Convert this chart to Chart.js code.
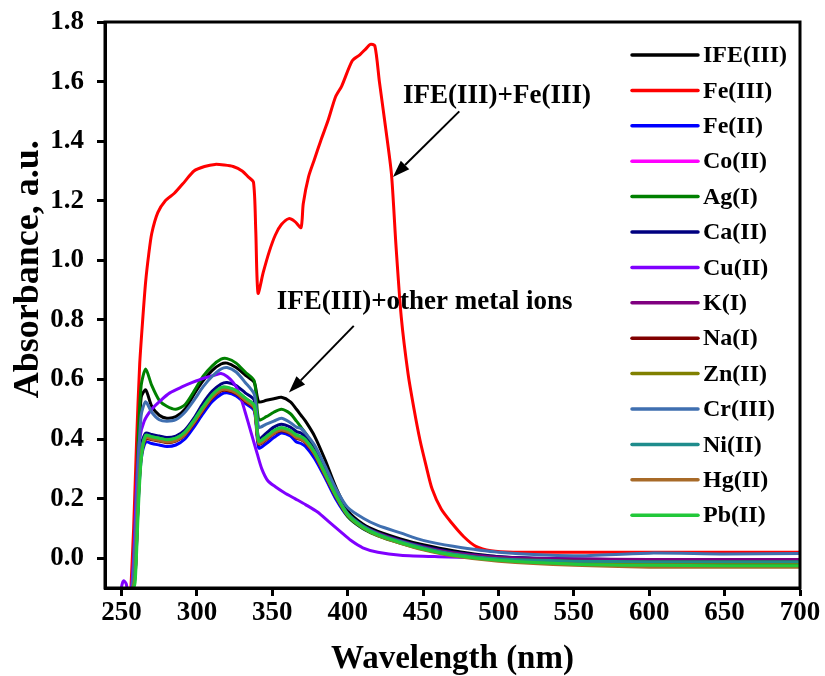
<!DOCTYPE html>
<html>
<head>
<meta charset="utf-8">
<script src="https://cdn.jsdelivr.net/npm/chart.js@4/dist/chart.umd.min.js"></script>
<style>
  html, body { margin: 0; padding: 0; background: #ffffff; }
  #wrap { width: 825px; height: 676px; }
</style>
</head>
<body>
<div id="wrap"><canvas id="c" width="825" height="676"></canvas></div>
<script>
// ---- Data -------------------------------------------------------------
const xTicks = [250, 300, 350, 400, 450, 500, 550, 600, 650, 700];
const yTicks = [0.0, 0.2, 0.4, 0.6, 0.8, 1.0, 1.2, 1.4, 1.6, 1.8];

const seriesNames = ['IFE(III)', 'Fe(III)', 'Fe(II)', 'Co(II)', 'Ag(I)', 'Ca(II)', 'Cu(II)',
                     'K(I)', 'Na(I)', 'Zn(II)', 'Cr(III)', 'Ni(II)', 'Hg(II)', 'Pb(II)'];

// common wavelength grid (nm) for IFE(III) with the non-interfering ions
const wl = [257, 259, 261, 263, 266, 270, 275, 280, 286, 292, 298, 304, 310, 316, 320, 326, 332, 338,
            341, 346, 351, 356, 362, 366, 369, 372, 378, 385, 392, 400, 410, 420, 435, 450, 470, 500,
            550, 600, 650, 700];

const ife   = [-0.12, 0.10, 0.35, 0.54, 0.565, 0.51, 0.48, 0.47, 0.475, 0.50, 0.55, 0.595, 0.63, 0.652, 0.655, 0.64, 0.615, 0.59,
               0.525, 0.53, 0.535, 0.54, 0.525, 0.50, 0.48, 0.46, 0.41, 0.33, 0.24, 0.16, 0.115, 0.09, 0.065, 0.045, 0.025, 0.005,
               -0.005, -0.008, -0.01, -0.01];
const agI   = [-0.12, 0.10, 0.40, 0.58, 0.635, 0.58, 0.53, 0.51, 0.50, 0.515, 0.56, 0.61, 0.645, 0.668, 0.67, 0.655, 0.625, 0.595,
               0.465, 0.475, 0.49, 0.50, 0.485, 0.46, 0.44, 0.42, 0.37, 0.29, 0.21, 0.14, 0.10, 0.075, 0.05, 0.03, 0.01, -0.005,
               -0.015, -0.02, -0.02, -0.02];
const crIII = [-0.12, 0.05, 0.30, 0.48, 0.525, 0.49, 0.465, 0.46, 0.465, 0.49, 0.53, 0.575, 0.61, 0.635, 0.64, 0.625, 0.59, 0.55,
               0.44, 0.45, 0.46, 0.47, 0.455, 0.44, 0.435, 0.42, 0.38, 0.31, 0.235, 0.17, 0.135, 0.11, 0.085, 0.06, 0.04, 0.02,
               0.008, 0.017, 0.014, 0.016];
const caII  = [-0.12, 0.00, 0.25, 0.38, 0.42, 0.415, 0.41, 0.405, 0.41, 0.43, 0.47, 0.52, 0.56, 0.585, 0.59, 0.58, 0.555, 0.53,
               0.40, 0.42, 0.44, 0.45, 0.44, 0.425, 0.42, 0.405, 0.36, 0.29, 0.215, 0.15, 0.11, 0.085, 0.06, 0.04, 0.02, 0.005,
               -0.003, -0.005, -0.005, -0.005];
const feII  = [-0.12, -0.06, 0.18, 0.33, 0.39, 0.385, 0.38, 0.375, 0.38, 0.40, 0.44, 0.485, 0.525, 0.55, 0.555, 0.545, 0.52, 0.495,
               0.37, 0.385, 0.405, 0.42, 0.41, 0.39, 0.385, 0.375, 0.335, 0.27, 0.20, 0.14, 0.10, 0.078, 0.054, 0.035, 0.016, 0.002,
               -0.004, -0.005, -0.004, -0.004];
const coII  = [-0.12, -0.05, 0.20, 0.35, 0.41, 0.405, 0.40, 0.395, 0.40, 0.42, 0.46, 0.505, 0.545, 0.57, 0.57, 0.56, 0.535, 0.51,
               0.39, 0.405, 0.425, 0.435, 0.425, 0.41, 0.405, 0.395, 0.355, 0.285, 0.213, 0.148, 0.107, 0.082, 0.057, 0.036, 0.016, 0.0,
               -0.006, -0.006, -0.006, -0.006];
const kI    = [-0.12, -0.05, 0.20, 0.35, 0.405, 0.40, 0.395, 0.39, 0.395, 0.415, 0.455, 0.50, 0.54, 0.565, 0.565, 0.555, 0.53, 0.505,
               0.385, 0.40, 0.42, 0.43, 0.42, 0.405, 0.40, 0.39, 0.35, 0.28, 0.21, 0.147, 0.108, 0.084, 0.058, 0.038, 0.018, 0.003,
               -0.003, -0.004, -0.004, -0.004];
const naI   = [-0.12, -0.05, 0.19, 0.34, 0.40, 0.398, 0.393, 0.388, 0.393, 0.413, 0.452, 0.497, 0.537, 0.562, 0.563, 0.552, 0.527, 0.502,
               0.383, 0.398, 0.418, 0.428, 0.418, 0.403, 0.398, 0.388, 0.348, 0.278, 0.208, 0.144, 0.104, 0.079, 0.054, 0.034, 0.014, -0.002,
               -0.01, -0.012, -0.012, -0.012];
const znII  = [-0.12, -0.05, 0.20, 0.35, 0.408, 0.403, 0.398, 0.393, 0.398, 0.418, 0.458, 0.503, 0.543, 0.568, 0.568, 0.558, 0.533, 0.508,
               0.388, 0.403, 0.423, 0.433, 0.423, 0.408, 0.403, 0.393, 0.353, 0.283, 0.212, 0.146, 0.105, 0.079, 0.053, 0.032, 0.012, -0.004,
               -0.013, -0.016, -0.016, -0.016];
const niII  = [-0.12, -0.04, 0.21, 0.36, 0.413, 0.408, 0.403, 0.398, 0.403, 0.423, 0.463, 0.508, 0.548, 0.573, 0.573, 0.563, 0.538, 0.513,
               0.393, 0.408, 0.428, 0.438, 0.428, 0.413, 0.408, 0.398, 0.357, 0.287, 0.215, 0.149, 0.108, 0.082, 0.056, 0.035, 0.014, -0.002,
               -0.01, -0.012, -0.012, -0.012];
const hgII  = [-0.12, -0.06, 0.19, 0.345, 0.405, 0.40, 0.395, 0.39, 0.395, 0.415, 0.455, 0.50, 0.54, 0.565, 0.566, 0.555, 0.53, 0.505,
               0.385, 0.40, 0.42, 0.43, 0.42, 0.405, 0.40, 0.39, 0.35, 0.28, 0.21, 0.144, 0.102, 0.076, 0.05, 0.028, 0.007, -0.01,
               -0.024, -0.03, -0.03, -0.03];
const pbII  = [-0.12, -0.08, 0.15, 0.33, 0.412, 0.408, 0.403, 0.398, 0.403, 0.423, 0.463, 0.508, 0.548, 0.573, 0.574, 0.563, 0.538, 0.513,
               0.393, 0.408, 0.428, 0.438, 0.428, 0.413, 0.408, 0.398, 0.356, 0.285, 0.213, 0.146, 0.104, 0.078, 0.052, 0.031, 0.01, -0.007,
               -0.02, -0.024, -0.025, -0.025];

// Cu(II) on its own grid (includes the small feature near 251 nm)
const wlCu = [249, 250.5, 251.5, 253, 254.5, 256, 258, 260, 262, 265, 270, 276, 282, 290, 297, 305, 312, 316, 320, 324, 328, 332,
              336, 340, 343, 347, 352, 358, 365, 372, 380, 388, 395, 402, 410, 420, 435, 460, 500, 550, 600, 650, 700];
const cuII = [-0.12, -0.085, -0.076, -0.085, -0.12, -0.12, 0.0, 0.25, 0.40, 0.46, 0.50, 0.53, 0.555, 0.575, 0.59, 0.605, 0.615, 0.62,
              0.61, 0.59, 0.555, 0.49, 0.42, 0.35, 0.30, 0.26, 0.24, 0.22, 0.20, 0.18, 0.155, 0.12, 0.09, 0.06, 0.035, 0.02, 0.01, 0.005,
              0.0, -0.003, -0.005, -0.005, -0.005];

// Fe(III) on its own grid
const wlFe3 = [256, 258, 260, 262, 264, 266, 268, 270, 274, 279, 285, 292, 298, 305, 312, 318, 324, 330, 334, 337.5, 339, 340.5,
               344, 348, 352, 356, 361, 365, 369, 370.5, 374, 378, 382, 387, 392, 396, 403, 408, 412, 415, 418, 421, 425, 429,
               432, 435.5, 440, 444, 448, 452, 456, 462, 469, 477, 485, 495, 510, 550, 600, 650, 700];
const feIII = [-0.12, 0.10, 0.40, 0.65, 0.80, 0.93, 1.02, 1.09, 1.16, 1.20, 1.225, 1.265, 1.30, 1.315, 1.322, 1.32, 1.315, 1.30,
               1.28, 1.262, 1.10, 0.89, 0.96, 1.03, 1.085, 1.12, 1.14, 1.13, 1.11, 1.19, 1.28, 1.34, 1.40, 1.47, 1.55, 1.585, 1.67,
               1.69, 1.71, 1.725, 1.72, 1.60, 1.45, 1.29, 1.05, 0.81, 0.62, 0.50, 0.395, 0.31, 0.232, 0.165, 0.118, 0.072, 0.04,
               0.025, 0.02, 0.02, 0.02, 0.02, 0.02];

const seriesColors = ['#000000', '#FF0000', '#0000FF', '#FF00FF', '#008000', '#000080', '#8000FF',
                      '#800080', '#800000', '#808000', '#3F6FB0', '#1E8C8C', '#A86A28', '#22C83A'];

// ---- Build datasets ---------------------------------------------------
const toPts = (xs, ys) => xs.map((x, i) => ({ x: x, y: ys[i] }));
const seriesData = [
  toPts(wl, ife), toPts(wlFe3, feIII), toPts(wl, feII), toPts(wl, coII), toPts(wl, agI), toPts(wl, caII),
  toPts(wlCu, cuII), toPts(wl, kI), toPts(wl, naI), toPts(wl, znII), toPts(wl, crIII), toPts(wl, niII),
  toPts(wl, hgII), toPts(wl, pbII)
];
const datasets = seriesNames.map((name, i) => ({
  label: name,
  data: seriesData[i],
  borderColor: seriesColors[i],
  backgroundColor: seriesColors[i],
  borderWidth: 3,
  pointRadius: 0,
  tension: 0.25,
  fill: false,
  order: seriesNames.length - i   // later series painted on top
}));

const serif = '"Liberation Serif", "Times New Roman", serif';

// ---- Plugins ----------------------------------------------------------
// frame around the plot area
const framePlugin = {
  id: 'frame',
  afterDatasetsDraw(chart) {
    const a = chart.chartArea, ctx = chart.ctx;
    ctx.save();
    ctx.strokeStyle = '#000';
    ctx.lineWidth = 3;
    ctx.strokeRect(a.left, a.top, a.right - a.left, a.bottom - a.top);
    ctx.restore();
  }
};

// vertical axis title, set a little above the middle of the axis
const yTitlePlugin = {
  id: 'yTitle',
  afterDraw(chart, args, opts) {
    const ctx = chart.ctx, a = chart.chartArea;
    ctx.save();
    ctx.translate(opts.x, a.top + (a.bottom - a.top) * opts.frac);
    ctx.rotate(-Math.PI / 2);
    ctx.font = 'bold 36px ' + serif;
    ctx.fillStyle = '#000';
    ctx.textAlign = 'center';
    ctx.textBaseline = 'middle';
    ctx.fillText(opts.text, 0, 0);
    ctx.restore();
  }
};

// legend drawn inside the plot, upper right
const insideLegend = {
  id: 'insideLegend',
  afterDraw(chart, args, opts) {
    const ctx = chart.ctx, a = chart.chartArea;
    ctx.save();
    ctx.font = 'bold 24px ' + serif;
    ctx.textBaseline = 'middle';
    ctx.textAlign = 'left';
    chart.data.datasets.forEach((ds, i) => {
      const y = a.top + opts.top + i * opts.rowGap;
      const x0 = a.right - opts.fromRight;
      ctx.strokeStyle = ds.borderColor;
      ctx.lineWidth = 3.5;
      ctx.lineCap = 'round';
      ctx.beginPath();
      ctx.moveTo(x0, y);
      ctx.lineTo(x0 + opts.lineLen, y);
      ctx.stroke();
      ctx.fillStyle = '#000';
      ctx.fillText(ds.label, x0 + opts.lineLen + 5, y + 1);
    });
    ctx.restore();
  }
};

// text notes with arrows, anchored in data units
const notesPlugin = {
  id: 'notes',
  afterDraw(chart, args, opts) {
    const ctx = chart.ctx, xs = chart.scales.x, ys = chart.scales.y;
    ctx.save();
    opts.items.forEach(n => {
      ctx.font = 'bold 27px ' + serif;
      ctx.fillStyle = '#000';
      ctx.textAlign = 'center';
      ctx.textBaseline = 'middle';
      ctx.fillText(n.text, xs.getPixelForValue(n.at[0]), ys.getPixelForValue(n.at[1]));
      const x1 = xs.getPixelForValue(n.from[0]), y1 = ys.getPixelForValue(n.from[1]);
      const x2 = xs.getPixelForValue(n.to[0]), y2 = ys.getPixelForValue(n.to[1]);
      const ang = Math.atan2(y2 - y1, x2 - x1);
      const head = 17, half = 6;
      const bx = x2 - head * Math.cos(ang), by = y2 - head * Math.sin(ang);
      ctx.strokeStyle = '#000';
      ctx.lineWidth = 2;
      ctx.beginPath();
      ctx.moveTo(x1, y1);
      ctx.lineTo(bx, by);
      ctx.stroke();
      ctx.beginPath();
      ctx.moveTo(x2, y2);
      ctx.lineTo(bx + half * Math.sin(ang), by - half * Math.cos(ang));
      ctx.lineTo(bx - half * Math.sin(ang), by + half * Math.cos(ang));
      ctx.closePath();
      ctx.fill();
    });
    ctx.restore();
  }
};

// ---- Chart ------------------------------------------------------------
const tickFont = { family: serif, size: 27, weight: 'bold' };

new Chart(document.getElementById('c'), {
  type: 'line',
  data: { datasets },
  options: {
    responsive: false,
    animation: false,
    layout: { padding: { top: 22, right: 25, left: 0, bottom: 0 } },
    plugins: {
      legend: { display: false },
      tooltip: { enabled: false },
      yTitle: { text: 'Absorbance, a.u.', x: 29, frac: 0.437 },
      insideLegend: { top: 33, rowGap: 35.4, fromRight: 168, lineLen: 66 },
      notes: {
        items: [
          { text: 'IFE(III)+Fe(III)', at: [499, 1.553], from: [474, 1.50], to: [430, 1.28] },
          { text: 'IFE(III)+other metal ions', at: [451, 0.86], from: [404, 0.78], to: [361, 0.556] }
        ]
      }
    },
    scales: {
      x: {
        type: 'linear',
        min: 239,
        max: 700,
        afterBuildTicks: s => { s.ticks = xTicks.map(v => ({ value: v })); },
        afterFit: s => { s.height = 88; s.paddingLeft = 0; s.paddingRight = 0; },
        grid: { display: true, drawOnChartArea: false, drawTicks: true, tickLength: 8, tickWidth: 3, tickColor: '#000' },
        border: { display: true, color: '#000', width: 3 },
        ticks: { font: tickFont, color: '#000', padding: 1, maxRotation: 0, autoSkip: false },
        title: { display: true, text: 'Wavelength (nm)', color: '#000',
                 font: { family: serif, size: 33, weight: 'bold', lineHeight: 1.0 }, padding: { top: 0, bottom: 0 } }
      },
      y: {
        type: 'linear',
        min: -0.1,
        max: 1.8,
        afterBuildTicks: s => { s.ticks = yTicks.map(v => ({ value: v })); },
        afterFit: s => { s.width = 105; s.paddingTop = 0; s.paddingBottom = 0; },
        grid: { display: true, drawOnChartArea: false, drawTicks: true, tickLength: 8, tickWidth: 3, tickColor: '#000' },
        border: { display: true, color: '#000', width: 3 },
        ticks: { font: tickFont, color: '#000', padding: 13, callback: v => Number(v).toFixed(1) },
        title: { display: false }
      }
    }
  },
  plugins: [framePlugin, yTitlePlugin, insideLegend, notesPlugin]
});
</script>
</body>
</html>
